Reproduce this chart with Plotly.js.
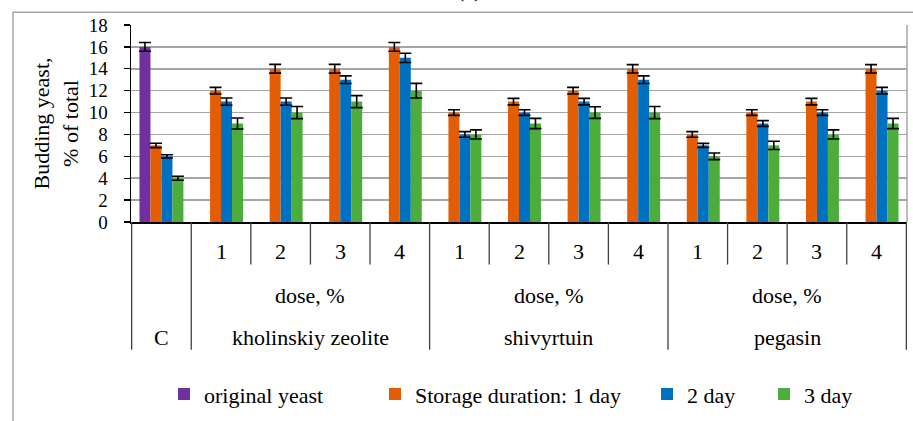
<!DOCTYPE html>
<html>
<head>
<meta charset="utf-8">
<script src="https://cdn.plot.ly/plotly-3.0.1.min.js"></script>
<style>
  html, body { margin: 0; padding: 0; background: #ffffff; }
  #chart { width: 913px; height: 421px; }
</style>
</head>
<body>
<div id="chart"></div>
<script>
// ---- data ----
const categories = ["C", "KZ-1", "KZ-2", "KZ-3", "KZ-4", "SH-1", "SH-2", "SH-3", "SH-4", "PG-1", "PG-2", "PG-3", "PG-4"];
const doseLabels = ["", "1", "2", "3", "4", "1", "2", "3", "4", "1", "2", "3", "4"];
const categoryGroup = ["C", "kholinskiy zeolite", "kholinskiy zeolite", "kholinskiy zeolite", "kholinskiy zeolite",
  "shivyrtuin", "shivyrtuin", "shivyrtuin", "shivyrtuin", "pegasin", "pegasin", "pegasin", "pegasin"];
const doseCaption = "dose, %";

const seriesNames = ["original yeast", "Storage duration: 1 day", "2 day", "3 day"];
const originalYeast = [16, null, null, null, null, null, null, null, null, null, null, null, null];
const day1 = [7, 12, 14, 14, 16, 10, 11, 12, 14, 8, 10, 11, 14];
const day2 = [6, 11, 11, 13, 15, 8, 10, 11, 13, 7, 9, 10, 12];
const day3 = [4, 9, 10, 11, 12, 8, 9, 10, 10, 6, 7, 8, 9];
const originalErr = [0.4, null, null, null, null, null, null, null, null, null, null, null, null];
const day1Err = [0.2, 0.3, 0.4, 0.4, 0.4, 0.26, 0.3, 0.3, 0.38, 0.26, 0.26, 0.3, 0.38];
const day2Err = [0.15, 0.33, 0.33, 0.35, 0.42, 0.26, 0.26, 0.3, 0.35, 0.18, 0.26, 0.26, 0.3];
const day3Err = [0.18, 0.5, 0.55, 0.55, 0.67, 0.42, 0.47, 0.53, 0.55, 0.3, 0.38, 0.42, 0.47];

const yTitle = "Budding yeast,<br>% of total";
const panelLabel = "(a)";

// ---- styling ----
const FONT = "Liberation Serif";
const colors = ["#7030A0", "#E35D05", "#0070C0", "#4CAD3C"];
const values = [originalYeast, day1, day2, day3];
const errors = [originalErr, day1Err, day2Err, day3Err];
const legendIds = ["legend", "legend2", "legend3", "legend4"];

// plot area in pixels
const W = 913, H = 421;
const PL = 131, PR = 907, PT = 25, PB = 224;
const px2x = p => (p - PL) / (PR - PL);
const px2y = p => (PB - p) / (PB - PT);

const traces = values.map((v, i) => ({
  type: "bar",
  name: seriesNames[i],
  x: categories,
  y: v,
  marker: { color: colors[i], line: { width: 0 } },
  error_y: { type: "data", array: errors[i], visible: true, color: "#000000", thickness: 1.6, width: 6 },
  legend: legendIds[i],
  hoverinfo: "y"
}));

// x-axis hierarchy: shapes and annotations
const shapes = [];
const annotations = [];
const lineStyle = { color: "#404040", width: 1.3 };
const innerBottom = px2y(267);
const groupBottom = px2y(353);

// group spans derived from categoryGroup
const groups = [];
categoryGroup.forEach((g, i) => {
  if (!groups.length || groups[groups.length - 1].name !== g) groups.push({ name: g, start: i, end: i });
  else groups[groups.length - 1].end = i;
});

const lblFont = { family: FONT, size: 22, color: "#000" };
groups.forEach((g, gi) => {
  shapes.push({ type: "line", xref: "x", yref: "paper", x0: g.start - 0.5, x1: g.start - 0.5, y0: 0, y1: groupBottom, line: lineStyle });
  if (gi === groups.length - 1) {
    shapes.push({ type: "line", xref: "x", yref: "paper", x0: g.end + 0.5, x1: g.end + 0.5, y0: 0, y1: groupBottom, line: lineStyle });
  }
  for (let k = g.start + 1; k <= g.end; k++) {
    shapes.push({ type: "line", xref: "x", yref: "paper", x0: k - 0.5, x1: k - 0.5, y0: 0, y1: innerBottom, line: lineStyle });
  }
  const mid = (g.start + g.end) / 2;
  annotations.push({ xref: "x", yref: "paper", x: mid, y: px2y(341), text: g.name, showarrow: false,
    xanchor: "center", yanchor: "middle", font: lblFont });
  if (g.end > g.start) {
    annotations.push({ xref: "x", yref: "paper", x: mid, y: px2y(298), text: doseCaption, showarrow: false,
      xanchor: "center", yanchor: "middle", font: lblFont });
  }
});
doseLabels.forEach((d, i) => {
  if (d) annotations.push({ xref: "x", yref: "paper", x: i, y: px2y(254), text: d, showarrow: false,
    xanchor: "center", yanchor: "middle", font: lblFont });
});

// right border of plot area
shapes.push({ type: "line", xref: "paper", yref: "paper", x0: 1, x1: 1, y0: 0, y1: 1, line: { color: "#A6A6A6", width: 1.5 }, layer: "below" });
// outer chart frame
shapes.push({ type: "rect", xref: "paper", yref: "paper", x0: px2x(13), x1: px2x(925), y0: px2y(440), y1: px2y(12),
  line: { color: "#A6A6A6", width: 1.5 }, layer: "below" });

// panel label (cut off at top, as in the original)
annotations.push({ xref: "paper", yref: "paper", x: px2x(469), y: px2y(4), text: panelLabel, showarrow: false,
  xanchor: "center", yanchor: "bottom", font: lblFont });

// legends (one per series so spacing can follow the original)
const legendTextStart = [204, 415, 687, 804];
const legendY = px2y(398);
const layout = {
  width: W, height: H,
  margin: { l: PL, r: W - PR, t: PT, b: H - PB, pad: 0 },
  paper_bgcolor: "#ffffff", plot_bgcolor: "#ffffff",
  font: { family: FONT, size: 22, color: "#000" },
  barmode: "group", bargap: 0.263, bargroupgap: 0,
  xaxis: { type: "category", showticklabels: false, ticks: "", showline: true, linecolor: "#000", linewidth: 1.5,
    showgrid: false, zeroline: false, fixedrange: true },
  yaxis: { range: [0, 18], dtick: 2, tick0: 0, ticks: "outside", ticklen: 6, tickcolor: "#000", tickwidth: 1.3,
    showline: true, linecolor: "#000", linewidth: 1.5, gridcolor: "#A6A6A6", gridwidth: 1.5, zeroline: false,
    tickfont: { family: FONT, size: 19, color: "#000" }, ticklabelstandoff: 12,
    title: { text: yTitle, font: { family: FONT, size: 22, color: "#000" }, standoff: 4 }, fixedrange: true },
  shapes: shapes,
  annotations: annotations,
  showlegend: true
};
legendIds.forEach((id, i) => {
  layout[id] = { orientation: "h", x: px2x(legendTextStart[i] - 40), xanchor: "left", y: legendY, yanchor: "middle",
    itemwidth: 30, bgcolor: "rgba(0,0,0,0)", borderwidth: 0, font: { family: FONT, size: 22, color: "#000" },
    itemclick: false, itemdoubleclick: false };
});

Plotly.newPlot("chart", traces, layout, { displayModeBar: false, staticPlot: true });
</script>
</body>
</html>
